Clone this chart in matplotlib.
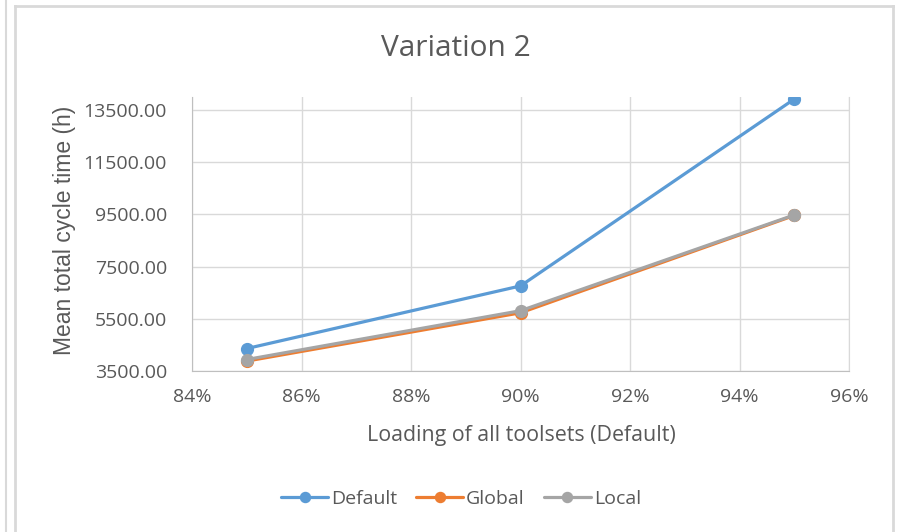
import matplotlib
matplotlib.use("Agg")
import matplotlib.pyplot as plt
from matplotlib.lines import Line2D
from matplotlib.ticker import FuncFormatter

plt.rcParams['font.family'] = ['Open Sans', 'DejaVu Sans']

loading = [0.85, 0.90, 0.95]
default_vals = [4360, 6760, 13920]
global_vals = [3880, 5730, 9460]
local_vals = [3940, 5810, 9480]

series_names = ["Default", "Global", "Local"]
colors = ["#5B9BD5", "#ED7D31", "#A5A5A5"]

x_ticks = [0.84, 0.86, 0.88, 0.90, 0.92, 0.94, 0.96]
y_ticks = [3500, 5500, 7500, 9500, 11500, 13500]

txt = "#595959"
grid = "#D9D9D9"

fig = plt.figure(figsize=(8.99, 5.32), dpi=100)
ax = fig.add_axes([192/899, 1-371/532, (849-192)/899, (371-97)/532])

for vals, name, c in zip([default_vals, global_vals, local_vals], series_names, colors):
    ax.plot(loading, vals, color=c, lw=2.3, marker='o', ms=8.5, label=name,
            solid_capstyle='round', zorder=3)

ax.set_xlim(0.84, 0.96)
ax.set_ylim(3500, 14000)
ax.set_xticks(x_ticks)
ax.set_yticks(y_ticks)
ax.xaxis.set_major_formatter(FuncFormatter(lambda v, p: f"{v*100:.0f}%"))
ax.yaxis.set_major_formatter(FuncFormatter(lambda v, p: f"{v:.2f}"))
ax.grid(True, color=grid, lw=1)
ax.set_axisbelow(True)
ax.tick_params(length=0, labelsize=14, colors=txt)
ax.tick_params(axis='x', pad=12)
ax.tick_params(axis='y', pad=18)
ax.spines['top'].set_visible(False)
ax.spines['right'].set_color(grid)
ax.spines['left'].set_color('#BFBFBF')
ax.spines['bottom'].set_color('#BFBFBF')

fig.text(456/899, 1-49/532, "Variation 2", ha='center', va='center', fontsize=21.5, color=txt)
fig.text(65/899, 1-230/532, "Mean total cycle time (h)", ha='center', va='center',
         rotation=90, fontsize=16.5, color=txt, family=['Liberation Sans', 'DejaVu Sans'])
fig.text(521/899, 1-436/532, "Loading of all toolsets (Default)", ha='center', va='center',
         fontsize=15.4, color=txt)

leg = fig.legend(loc='center', bbox_to_anchor=(461/899, 1-499/532), ncol=3, frameon=False,
                 fontsize=14, handlelength=2.4, columnspacing=1.0, handletextpad=0.15,
                 markerscale=0.85)
for t in leg.get_texts():
    t.set_color(txt)

# chart frame decorations
border = "#D9D9D9"
fig.add_artist(Line2D([15/899, 15/899], [0, 1-6/532], transform=fig.transFigure, color=border, lw=2))
fig.add_artist(Line2D([15/899, 893/899], [1-6/532, 1-6/532], transform=fig.transFigure, color=border, lw=2))
fig.add_artist(Line2D([893/899, 893/899], [0, 1-6/532], transform=fig.transFigure, color=border, lw=2))
fig.add_artist(Line2D([6/899, 6/899], [0, 1], transform=fig.transFigure, color=border, lw=1.5))

fig.savefig("out.png", dpi=100)
